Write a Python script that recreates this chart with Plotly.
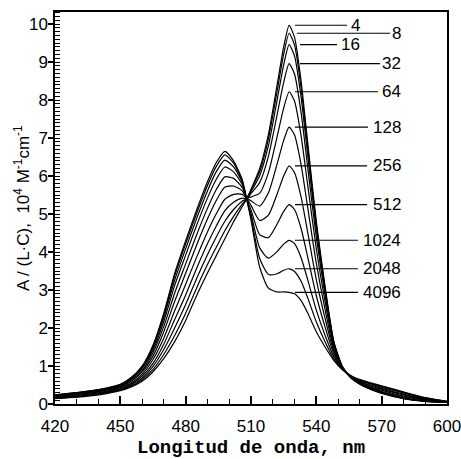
import plotly.graph_objects as go

# wavelength grid (nm)
wavelength = [420, 430, 440, 450, 455, 460, 465, 470, 475, 480, 485, 490, 494, 498, 502, 506, 508,
              510, 514, 518, 522, 525, 527.5, 530, 533, 536, 540, 544, 548, 552, 556, 560, 565, 570,
              580, 590, 600]

labels = ["4", "8", "16", "32", "64", "128", "256", "512", "1024", "2048", "4096"]

c4 = [0.14, 0.18, 0.24, 0.35, 0.45, 0.60, 0.85, 1.20, 1.65, 2.20, 2.85, 3.45, 3.90, 4.35, 4.80, 5.20, 5.40,
      5.65, 6.20, 7.10, 8.40, 9.40, 9.97, 9.65, 8.50, 6.90, 4.80, 3.10, 1.65, 0.98, 0.68, 0.52, 0.38, 0.28,
      0.14, 0.07, 0.04]
c8 = [0.15, 0.19, 0.25, 0.37, 0.47, 0.64, 0.91, 1.31, 1.81, 2.39, 3.05, 3.67, 4.12, 4.56, 4.94, 5.26, 5.40,
      5.63, 6.12, 6.98, 8.24, 9.21, 9.76, 9.45, 8.33, 6.77, 4.71, 3.05, 1.64, 0.98, 0.68, 0.52, 0.39, 0.29,
      0.15, 0.07, 0.04]
c16 = [0.16, 0.20, 0.27, 0.38, 0.50, 0.68, 0.99, 1.44, 2.01, 2.62, 3.30, 3.93, 4.39, 4.81, 5.12, 5.34, 5.40,
       5.59, 6.01, 6.80, 8.00, 8.93, 9.46, 9.16, 8.08, 6.57, 4.59, 2.98, 1.61, 0.97, 0.68, 0.53, 0.39, 0.30,
       0.15, 0.08, 0.04]
c32 = [0.17, 0.22, 0.29, 0.40, 0.53, 0.73, 1.07, 1.58, 2.23, 2.87, 3.57, 4.22, 4.68, 5.09, 5.31, 5.42, 5.40,
       5.54, 5.83, 6.52, 7.62, 8.47, 8.96, 8.68, 7.67, 6.25, 4.38, 2.87, 1.58, 0.97, 0.69, 0.54, 0.41, 0.31,
       0.17, 0.08, 0.04]
c64 = [0.19, 0.23, 0.30, 0.43, 0.56, 0.78, 1.17, 1.74, 2.46, 3.15, 3.86, 4.53, 5.00, 5.39, 5.52, 5.52, 5.42,
       5.45, 5.55, 6.09, 7.04, 7.79, 8.22, 7.97, 7.06, 5.78, 4.08, 2.70, 1.53, 0.96, 0.70, 0.55, 0.43, 0.33,
       0.19, 0.10, 0.05]
c128 = [0.20, 0.25, 0.32, 0.45, 0.60, 0.84, 1.26, 1.91, 2.71, 3.44, 4.18, 4.87, 5.35, 5.71, 5.74, 5.61, 5.42,
        5.35, 5.21, 5.56, 6.32, 6.94, 7.29, 7.08, 6.30, 5.19, 3.70, 2.49, 1.46, 0.95, 0.70, 0.57, 0.45, 0.36,
        0.21, 0.11, 0.05]
c256 = [0.21, 0.27, 0.34, 0.47, 0.63, 0.88, 1.35, 2.05, 2.93, 3.69, 4.45, 5.15, 5.64, 5.98, 5.94, 5.70, 5.42,
        5.23, 4.83, 4.97, 5.53, 6.00, 6.27, 6.09, 5.45, 4.53, 3.27, 2.26, 1.39, 0.94, 0.71, 0.58, 0.48, 0.39,
        0.24, 0.12, 0.06]
c512 = [0.22, 0.28, 0.36, 0.49, 0.66, 0.93, 1.42, 2.18, 3.13, 3.92, 4.70, 5.42, 5.91, 6.24, 6.11, 5.77, 5.40,
        5.11, 4.46, 4.38, 4.74, 5.07, 5.25, 5.12, 4.62, 3.88, 2.85, 2.03, 1.32, 0.93, 0.72, 0.60, 0.50, 0.41,
        0.26, 0.14, 0.06]
c1024 = [0.23, 0.29, 0.37, 0.50, 0.68, 0.96, 1.48, 2.28, 3.27, 4.09, 4.88, 5.61, 6.11, 6.42, 6.24, 5.83, 5.40,
         5.01, 4.11, 3.84, 4.01, 4.21, 4.31, 4.22, 3.85, 3.28, 2.47, 1.81, 1.25, 0.92, 0.73, 0.62, 0.53, 0.44,
         0.29, 0.15, 0.06]
c2048 = [0.24, 0.30, 0.37, 0.51, 0.69, 0.98, 1.52, 2.35, 3.38, 4.22, 5.01, 5.75, 6.25, 6.56, 6.34, 5.87, 5.40,
         4.92, 3.83, 3.41, 3.43, 3.52, 3.56, 3.49, 3.23, 2.80, 2.16, 1.64, 1.19, 0.91, 0.73, 0.63, 0.54, 0.46,
         0.30, 0.16, 0.07]
c4096 = [0.24, 0.30, 0.38, 0.52, 0.70, 1.00, 1.55, 2.40, 3.45, 4.30, 5.10, 5.85, 6.35, 6.65, 6.40, 5.90, 5.40,
         4.85, 3.60, 3.05, 2.95, 2.95, 2.94, 2.90, 2.72, 2.40, 1.90, 1.50, 1.15, 0.90, 0.74, 0.64, 0.56, 0.48,
         0.32, 0.17, 0.07]

series = [c4, c8, c16, c32, c64, c128, c256, c512, c1024, c2048, c4096]

x_title = "<b>Longitud de onda, nm</b>"
y_title = "A / (L·C),  10<sup>4</sup> M<sup>-1</sup>cm<sup>-1</sup>"

# label leader lines: (start nm, end nm), text anchor nm (right edge)
line_start = [530.2, 531.1, 532.5, 532.5, 530.2, 530.2, 530.2, 530.2, 530.2, 530.2, 530.2]
line_end = [554.1, 573.8, 549.5, 569.2, 568.3, 563.7, 563.3, 563.3, 559.1, 559.1, 559.1]
text_right = [561.0, 580.0, 561.0, 580.0, 580.0, 580.0, 580.0, 580.0, 580.0, 580.0, 580.0]

# dense minor tick positions on the y axis (every 0.1)
y_minor_ticks = [k / 10 for k in range(0, 104)]

fig = go.Figure()
for s in series:
    fig.add_trace(go.Scatter(x=wavelength, y=s, mode="lines",
                             line=dict(color="black", width=1.2, shape="spline", smoothing=0.6),
                             showlegend=False, hoverinfo="skip"))

peak_idx = wavelength.index(527.5)
for i, lab in enumerate(labels):
    yv = series[i][peak_idx]
    fig.add_shape(type="line", xref="x", yref="y", x0=line_start[i], x1=line_end[i], y0=yv, y1=yv,
                  line=dict(color="black", width=1.1))
    fig.add_annotation(x=text_right[i], y=yv, xref="x", yref="y", text=lab, showarrow=False,
                       xanchor="right", yanchor="middle",
                       font=dict(family="Liberation Sans, Arial", size=17, color="black"))

# axis titles as annotations for exact placement
fig.add_annotation(x=0.5, y=-0.113, xref="paper", yref="paper", text=x_title, showarrow=False,
                   xanchor="center", yanchor="middle", borderpad=0,
                   font=dict(family="Liberation Mono, Courier New", size=19, color="black"))
fig.add_annotation(x=-0.084, y=0.5, xref="paper", yref="paper", text=y_title, showarrow=False,
                   textangle=-90, xanchor="center", yanchor="middle",
                   font=dict(family="Liberation Sans, Arial", size=17, color="black"))

fig.update_layout(
    width=461, height=459,
    margin=dict(l=55, r=14, t=12, b=55, autoexpand=False),
    paper_bgcolor="white", plot_bgcolor="white",
    font=dict(family="Liberation Sans, Arial", size=17, color="black"),
    xaxis=dict(range=[420, 600], dtick=30, tick0=420, ticks="inside", ticklen=8, tickwidth=1.5,
               tickcolor="black", showline=True, linecolor="black", linewidth=1.5, mirror=True,
               showgrid=False, zeroline=False, ticklabeloverflow="allow", ticklabelstandoff=6,
               automargin=False, layer="above traces",
               minor=dict(dtick=10, tick0=420, ticks="inside", ticklen=5, tickwidth=1.2,
                          tickcolor="black", showgrid=False)),
    yaxis=dict(range=[0, 10.32], dtick=1, tick0=0, ticks="outside", ticklen=5, tickwidth=1.5,
               tickcolor="black", showline=True, linecolor="black", linewidth=1.5, mirror=True,
               showgrid=False, zeroline=False, automargin=False, ticklabelstandoff=-3,
               layer="above traces",
               minor=dict(tickmode="array", tickvals=y_minor_ticks, ticks="inside", ticklen=5,
                          tickwidth=1, tickcolor="black", showgrid=False)),
)

fig.write_html("out.html")
